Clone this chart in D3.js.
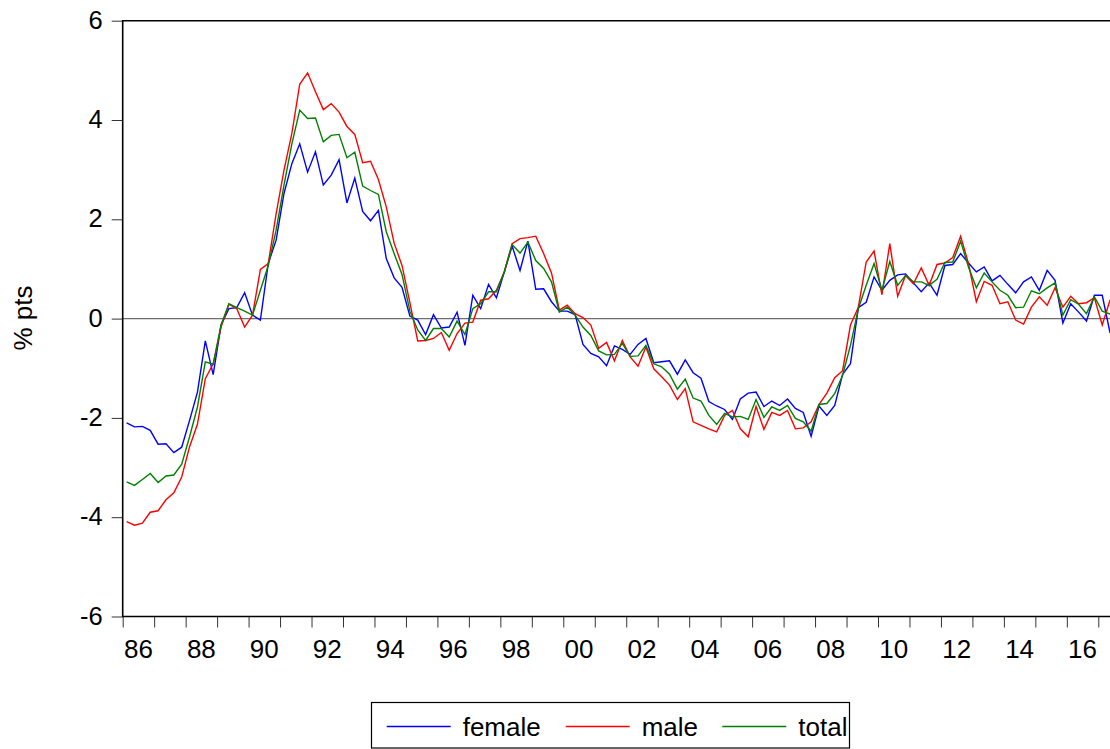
<!DOCTYPE html>
<html>
<head>
<meta charset="utf-8">
<script src="https://cdnjs.cloudflare.com/ajax/libs/d3/7.8.5/d3.min.js"></script>
<style>
  html, body { margin: 0; padding: 0; background: #fff; }
  svg { display: block; font-family: "Liberation Sans", Arial, sans-serif; }
</style>
</head>
<body>
<svg id="chart" width="1110" height="749"></svg>
<script>
// ---- data (quarterly, 1986Q1 onwards) ----
const startYear = 1986;
const female = [-2.10,-2.18,-2.17,-2.25,-2.53,-2.52,-2.70,-2.59,-2.05,-1.48,-0.45,-1.13,-0.13,0.20,0.22,0.52,0.07,-0.03,1.11,1.58,
  2.52,3.12,3.52,2.95,3.36,2.69,2.89,3.20,2.33,2.83,2.16,1.97,2.18,1.21,0.82,0.63,0.05,-0.03,-0.32,0.08,
  -0.19,-0.17,0.13,-0.54,0.47,0.20,0.69,0.42,0.94,1.46,0.97,1.56,0.59,0.60,0.34,0.15,0.15,0.08,-0.52,-0.70,
  -0.77,-0.95,-0.55,-0.62,-0.72,-0.52,-0.40,-0.89,-0.87,-0.85,-1.12,-0.83,-1.09,-1.20,-1.67,-1.76,-1.83,-2.03,-1.62,-1.50,
  -1.48,-1.77,-1.66,-1.75,-1.62,-1.81,-1.89,-2.37,-1.76,-1.95,-1.75,-1.12,-0.91,0.22,0.33,0.84,0.57,0.77,0.88,0.90,
  0.72,0.54,0.72,0.47,1.07,1.09,1.31,1.12,0.94,1.04,0.76,0.87,0.69,0.52,0.74,0.84,0.57,0.97,0.77,-0.09,
  0.30,0.13,-0.05,0.47,0.47,-0.29];
const male = [-4.09,-4.16,-4.12,-3.90,-3.87,-3.65,-3.51,-3.19,-2.58,-2.13,-1.21,-0.91,-0.17,0.29,0.20,-0.17,0.07,0.99,1.11,2.11,
  2.99,3.73,4.72,4.95,4.57,4.21,4.33,4.16,3.87,3.71,3.14,3.17,2.80,2.25,1.52,1.07,0.32,-0.45,-0.44,-0.40,
  -0.28,-0.64,-0.30,-0.09,-0.07,0.37,0.40,0.57,0.94,1.51,1.61,1.63,1.66,1.31,0.92,0.17,0.27,0.10,0.02,-0.13,
  -0.60,-0.48,-0.85,-0.44,-0.77,-0.96,-0.57,-1.01,-1.17,-1.34,-1.63,-1.41,-2.08,-2.15,-2.22,-2.28,-1.95,-1.85,-2.22,-2.38,
  -1.77,-2.23,-1.89,-1.95,-1.85,-2.22,-2.20,-2.08,-1.73,-1.50,-1.19,-1.05,-0.13,0.23,1.14,1.36,0.48,1.51,0.45,0.87,
  0.70,1.02,0.67,1.09,1.12,1.23,1.66,1.11,0.34,0.75,0.67,0.30,0.34,-0.03,-0.11,0.23,0.44,0.27,0.62,0.23,
  0.45,0.30,0.32,0.42,-0.13,0.38];
const total = [-3.29,-3.36,-3.24,-3.12,-3.30,-3.17,-3.15,-2.93,-2.38,-1.78,-0.87,-0.92,-0.13,0.30,0.22,0.15,0.07,0.57,1.07,1.78,
  2.69,3.52,4.20,4.03,4.04,3.56,3.69,3.71,3.24,3.35,2.67,2.58,2.50,1.75,1.31,0.89,0.15,-0.23,-0.44,-0.20,
  -0.20,-0.37,-0.05,-0.32,0.20,0.30,0.54,0.54,0.94,1.49,1.32,1.54,1.17,1.01,0.74,0.13,0.23,0.07,-0.17,-0.34,
  -0.65,-0.73,-0.72,-0.50,-0.76,-0.75,-0.54,-0.91,-0.97,-1.12,-1.42,-1.22,-1.60,-1.66,-1.95,-2.13,-1.91,-1.98,-1.97,-2.03,
  -1.63,-1.99,-1.78,-1.85,-1.75,-2.01,-2.08,-2.27,-1.73,-1.71,-1.51,-1.14,-0.54,0.20,0.67,1.11,0.57,1.15,0.67,0.87,
  0.74,0.74,0.67,0.79,1.13,1.14,1.56,1.04,0.62,0.92,0.74,0.57,0.47,0.22,0.23,0.56,0.50,0.62,0.72,0.07,
  0.38,0.29,0.10,0.44,0.15,0.09];
const seriesNames = ["female", "male", "total"];
const seriesColors = ["#0000ff", "#ff0000", "#008000"];
const yTicks = [6, 4, 2, 0, -2, -4, -6];
const xTickLabels = ["86","88","90","92","94","96","98","00","02","04","06","08","10","12","14","16"];
const yTitle = "% pts";

// ---- layout ----
const svg = d3.select("#chart");
const pLeft = 122.7, pTop = 20.7, pBottom = 616.5, pRight = 1130;
const x = d3.scaleLinear().domain([1986, 2017]).range([pLeft, 1098.3]);
const y = d3.scaleLinear().domain([-6, 6]).range([pBottom, pTop]);
const tOf = i => startYear + (i + 0.5) / 4;

// clip
svg.append("defs").append("clipPath").attr("id", "plotclip")
  .append("rect").attr("x", pLeft).attr("y", pTop).attr("width", pRight - pLeft).attr("height", pBottom - pTop);

// zero line
svg.append("line").attr("x1", pLeft).attr("x2", pRight).attr("y1", y(0)).attr("y2", y(0))
  .attr("stroke", "#6e6e6e").attr("stroke-width", 1.2);

// series
const allSeries = [female, male, total];
const line = d3.line().x((d, i) => x(tOf(i))).y(d => y(d));
const g = svg.append("g").attr("clip-path", "url(#plotclip)");
allSeries.forEach((s, k) => {
  g.append("path").datum(s).attr("d", line).attr("fill", "none")
    .attr("stroke", seriesColors[k]).attr("stroke-width", 1.4).attr("stroke-linejoin", "miter");
});

// y axis
const yAxis = d3.axisLeft(y).tickValues(yTicks).tickSize(11).tickPadding(9)
  .tickFormat(d => String(d));
const ya = svg.append("g").attr("transform", `translate(${pLeft},0)`).call(yAxis);
ya.select(".domain").remove();
ya.selectAll(".tick line").attr("stroke", "#333").attr("stroke-width", 1);
ya.selectAll(".tick text").attr("font-size", 25.5).attr("fill", "#000").attr("dy", "0.3em")
  .attr("font-family", "Liberation Sans, Arial, sans-serif");

// x axis ticks (year boundaries)
const yearTicks = d3.range(1986, 2019);
const xAxis = d3.axisBottom(x).tickValues(yearTicks).tickSize(11).tickFormat("");
const xa = svg.append("g").attr("transform", `translate(0,${pBottom})`).call(xAxis);
xa.select(".domain").remove();
xa.selectAll(".tick line").attr("stroke", "#333").attr("stroke-width", 1);
// labels centred in year intervals
svg.append("g").selectAll("text").data(xTickLabels).join("text")
  .attr("x", (d, i) => x(1986 + 2 * i + 0.5))
  .attr("y", 658.3)
  .attr("text-anchor", "middle")
  .attr("font-size", 26)
  .text(d => d);

// frame (left, top, bottom)
svg.append("path")
  .attr("d", `M${pRight},${pTop}H${pLeft}V${pBottom}H${pRight}`)
  .attr("fill", "none").attr("stroke", "#000").attr("stroke-width", 1.6);

// y title
svg.append("text").attr("transform", `translate(32,318) rotate(-90)`)
  .attr("text-anchor", "middle").attr("font-size", 26).text(yTitle);

// legend
const lg = svg.append("g");
lg.append("rect").attr("x", 371.5).attr("y", 702.5).attr("width", 478).attr("height", 45.5)
  .attr("fill", "#fff").attr("stroke", "#000").attr("stroke-width", 1.2);
const legX = [386.7, 565.7, 722.3];
seriesNames.forEach((n, k) => {
  lg.append("line").attr("x1", legX[k]).attr("x2", legX[k] + 64).attr("y1", 726.5).attr("y2", 726.5)
    .attr("stroke", seriesColors[k]).attr("stroke-width", 1.4);
  lg.append("text").attr("x", legX[k] + 76).attr("y", 735.5).attr("font-size", 26).text(n);
});
</script>
</body>
</html>
